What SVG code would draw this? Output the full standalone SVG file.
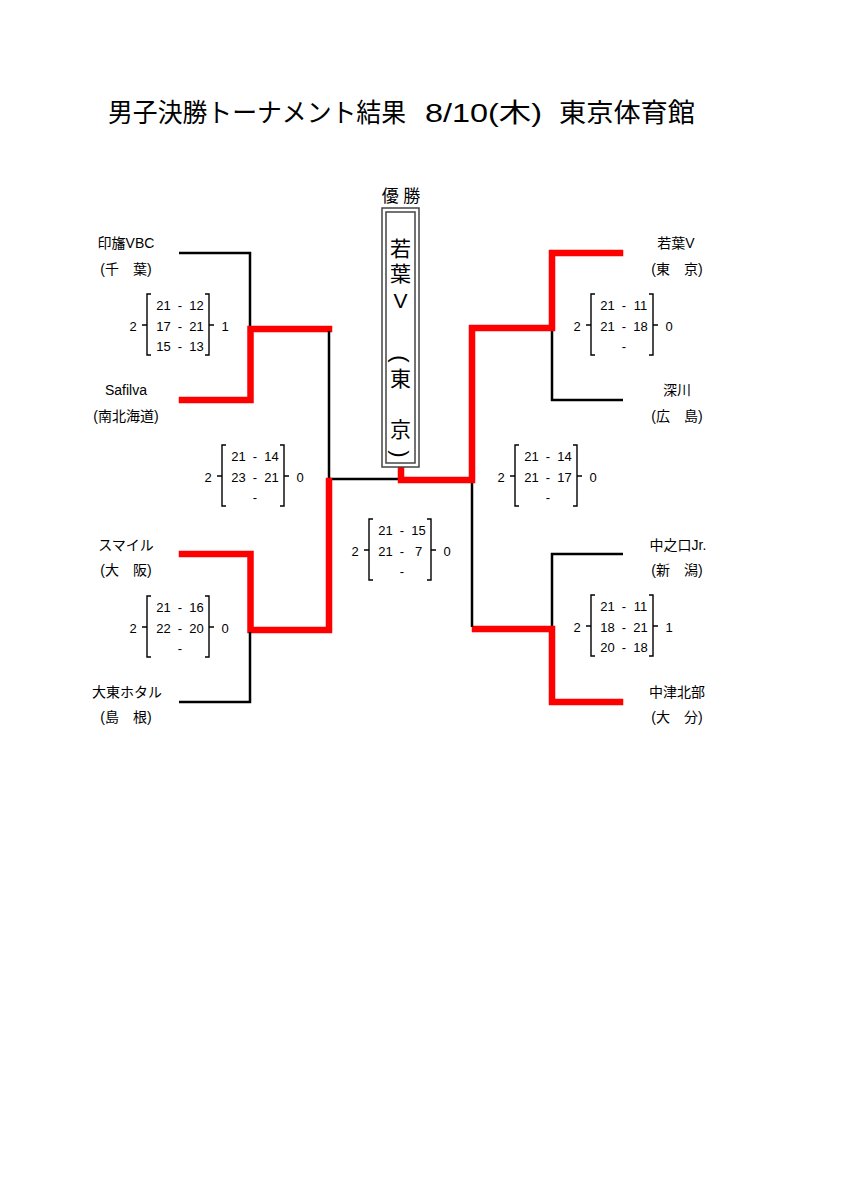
<svg xmlns="http://www.w3.org/2000/svg" xmlns:xlink="http://www.w3.org/1999/xlink" width="849" height="1200" viewBox="0 0 849 1200">
<style>
.t{font-family:"Liberation Sans","Noto Sans CJK JP",sans-serif;fill:#000}
.title{font-size:26px}
.lab{font-size:14px;text-anchor:middle}
.sc{font-size:13px;text-anchor:middle}
.bk{fill:none;stroke:#000;stroke-width:2.5;stroke-linejoin:miter;stroke-linecap:butt}
.rd{fill:none;stroke:#f00;stroke-width:6.5;stroke-linejoin:miter;stroke-linecap:square}
.br{fill:none;stroke:#000;stroke-width:1.4}
.box{fill:#fff;stroke:#444;stroke-width:1.5}
.vt{font-family:"Liberation Sans","Noto Sans CJK JP",sans-serif;font-size:21px;text-anchor:middle}
.vp{font-family:"Liberation Sans",sans-serif;font-size:22px;text-anchor:middle;dominant-baseline:central}
</style>
<defs>
<g id="brk">
<path class="br" d="M4,0 H0 V61 H4 M0,31 H-5"/>
<path class="br" d="M58,0 H62 V61 H58 M62,31 H67"/>
</g>
</defs>
<rect width="849" height="1200" fill="#fff"/>
<g id="title">
<text class="t title" y="122"><tspan x="108" textLength="298" lengthAdjust="spacingAndGlyphs">男子決勝トーナメント結果</tspan><tspan x="425" textLength="117" lengthAdjust="spacingAndGlyphs">8/10(木)</tspan><tspan x="559" textLength="136" lengthAdjust="spacingAndGlyphs">東京体育館</tspan></text>
</g>
<g id="connectors">
<path class="bk" d="M179,253 H250 V327"/>
<path class="rd" d="M182,400 H250.5 V329 H329"/>
<path class="bk" d="M329,331 V479 H399"/>
<path class="rd" d="M182,554 H250.5 V630 H329 V481"/>
<path class="bk" d="M179,702 H250 V632"/>
<path class="rd" d="M620,253 H552 V328 H472 V480 H401 V468"/>
<path class="bk" d="M623,400 H552 V331"/>
<path class="bk" d="M623,554 H552 V628"/>
<path class="rd" d="M620,702 H552 V629 H475"/>
<path class="bk" d="M472,483 V627"/>
</g>
<g id="champion">
<text class="t" x="401" y="202" font-size="17" text-anchor="middle">優 勝</text>
<rect class="box" x="382" y="208" width="37" height="259"/>
<rect class="box" x="386" y="212" width="29" height="251"/>
<text class="vt"><tspan x="400.5" y="256">若</tspan><tspan x="400.5" y="281">葉</tspan><tspan x="400.5" y="308">V</tspan><tspan x="400.5" y="386">東</tspan><tspan x="400.5" y="437">京</tspan></text>
<text class="vp" x="400.5" y="359" transform="rotate(90 400.5 359)">(</text>
<text class="vp" x="400.5" y="454" transform="rotate(90 400.5 454)">)</text>
</g>
<g id="team-inba">
<text class="t lab" x="126" y="248">印旛VBC</text>
<text class="t lab" x="126" y="274">(千　葉)</text>
</g>
<g id="team-safilva">
<text class="t lab" x="126" y="395">Safilva</text>
<text class="t lab" x="126" y="421">(南北海道)</text>
</g>
<g id="team-smile">
<text class="t lab" x="126" y="550">スマイル</text>
<text class="t lab" x="126" y="575">(大　阪)</text>
</g>
<g id="team-daito">
<text class="t lab" x="127" y="697">大東ホタル</text>
<text class="t lab" x="126" y="722">(島　根)</text>
</g>
<g id="team-wakaba">
<text class="t lab" x="676" y="248">若葉V</text>
<text class="t lab" x="677" y="274">(東　京)</text>
</g>
<g id="team-fukagawa">
<text class="t lab" x="677" y="395">深川</text>
<text class="t lab" x="677" y="421">(広　島)</text>
</g>
<g id="team-nakanokuchi">
<text class="t lab" x="678" y="550">中之口Jr.</text>
<text class="t lab" x="677" y="575">(新　潟)</text>
</g>
<g id="team-nakatsu">
<text class="t lab" x="677" y="697">中津北部</text>
<text class="t lab" x="677" y="722">(大　分)</text>
</g>
<g id="score-1" transform="translate(147,294)">
<use xlink:href="#brk"/>
<text class="t sc"><tspan x="-14" y="36.5">2</tspan><tspan x="78" y="36.5">1</tspan><tspan x="16.5" y="15.5">21</tspan><tspan x="33" y="15.5">-</tspan><tspan x="49.5" y="15.5">12</tspan><tspan x="16.5" y="36.5">17</tspan><tspan x="33" y="36.5">-</tspan><tspan x="49.5" y="36.5">21</tspan><tspan x="16.5" y="56.5">15</tspan><tspan x="33" y="56.5">-</tspan><tspan x="49.5" y="56.5">13</tspan></text>
</g>
<g id="score-2" transform="translate(222,445)">
<use xlink:href="#brk"/>
<text class="t sc"><tspan x="-14" y="36.5">2</tspan><tspan x="78" y="36.5">0</tspan><tspan x="16.5" y="15.5">21</tspan><tspan x="33" y="15.5">-</tspan><tspan x="49.5" y="15.5">14</tspan><tspan x="16.5" y="36.5">23</tspan><tspan x="33" y="36.5">-</tspan><tspan x="49.5" y="36.5">21</tspan><tspan x="33" y="56.5">-</tspan></text>
</g>
<g id="score-3" transform="translate(147,596)">
<use xlink:href="#brk"/>
<text class="t sc"><tspan x="-14" y="36.5">2</tspan><tspan x="78" y="36.5">0</tspan><tspan x="16.5" y="15.5">21</tspan><tspan x="33" y="15.5">-</tspan><tspan x="49.5" y="15.5">16</tspan><tspan x="16.5" y="36.5">22</tspan><tspan x="33" y="36.5">-</tspan><tspan x="49.5" y="36.5">20</tspan><tspan x="33" y="56.5">-</tspan></text>
</g>
<g id="score-final" transform="translate(369,519)">
<use xlink:href="#brk"/>
<text class="t sc"><tspan x="-14" y="36.5">2</tspan><tspan x="78" y="36.5">0</tspan><tspan x="16.5" y="15.5">21</tspan><tspan x="33" y="15.5">-</tspan><tspan x="49.5" y="15.5">15</tspan><tspan x="16.5" y="36.5">21</tspan><tspan x="33" y="36.5">-</tspan><tspan x="49.5" y="36.5">7</tspan><tspan x="33" y="56.5">-</tspan></text>
</g>
<g id="score-5" transform="translate(591,294)">
<use xlink:href="#brk"/>
<text class="t sc"><tspan x="-14" y="36.5">2</tspan><tspan x="78" y="36.5">0</tspan><tspan x="16.5" y="15.5">21</tspan><tspan x="33" y="15.5">-</tspan><tspan x="49.5" y="15.5">11</tspan><tspan x="16.5" y="36.5">21</tspan><tspan x="33" y="36.5">-</tspan><tspan x="49.5" y="36.5">18</tspan><tspan x="33" y="56.5">-</tspan></text>
</g>
<g id="score-6" transform="translate(515,445)">
<use xlink:href="#brk"/>
<text class="t sc"><tspan x="-14" y="36.5">2</tspan><tspan x="78" y="36.5">0</tspan><tspan x="16.5" y="15.5">21</tspan><tspan x="33" y="15.5">-</tspan><tspan x="49.5" y="15.5">14</tspan><tspan x="16.5" y="36.5">21</tspan><tspan x="33" y="36.5">-</tspan><tspan x="49.5" y="36.5">17</tspan><tspan x="33" y="56.5">-</tspan></text>
</g>
<g id="score-7" transform="translate(591,595)">
<use xlink:href="#brk"/>
<text class="t sc"><tspan x="-14" y="36.5">2</tspan><tspan x="78" y="36.5">1</tspan><tspan x="16.5" y="15.5">21</tspan><tspan x="33" y="15.5">-</tspan><tspan x="49.5" y="15.5">11</tspan><tspan x="16.5" y="36.5">18</tspan><tspan x="33" y="36.5">-</tspan><tspan x="49.5" y="36.5">21</tspan><tspan x="16.5" y="56.5">20</tspan><tspan x="33" y="56.5">-</tspan><tspan x="49.5" y="56.5">18</tspan></text>
</g>
</svg>
